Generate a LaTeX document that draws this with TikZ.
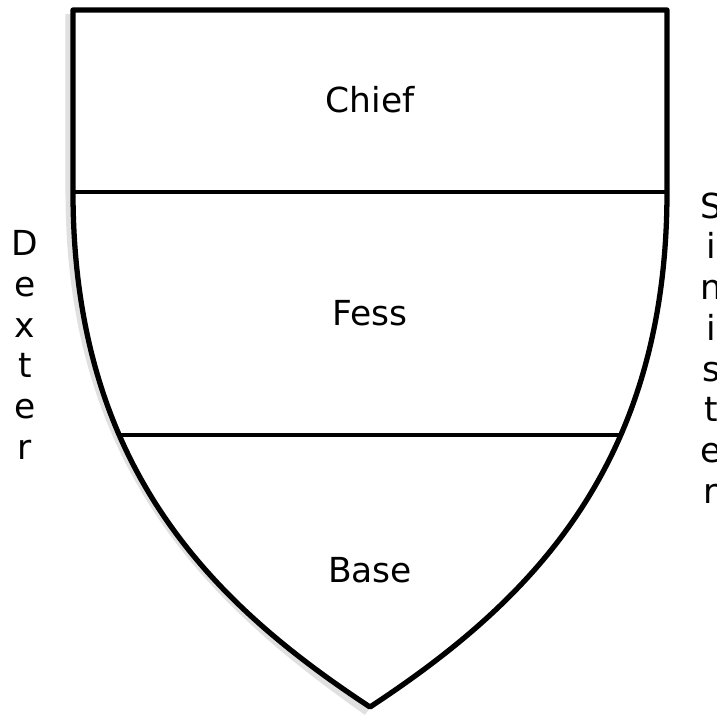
\documentclass[tikz,border=0pt]{standalone}
\usepackage{fontspec}
\setmainfont{DejaVu Sans}
\begin{document}
\begin{tikzpicture}[x=0.01cm,y=-0.01cm,line join=round,
  part/.style={font=\fontsize{9.8}{12}\selectfont},
  side/.style={font=\fontsize{9.8}{11.6}\selectfont,align=center,inner sep=0pt}]
\useasboundingbox (0,0) rectangle (717,717);
% soft shadow on the left
\draw[line width=2pt,black!12] (69,14) -- (69,192) .. controls (69,470) and (215,605) .. (367,712);
% dividing lines of the field
\begin{scope}
\clip (73,10) -- (667,10) -- (667,192) .. controls (667,470) and (525,605) .. (370,707) .. controls (215,605) and (73,470) .. (73,192) -- cycle;
\draw[line width=1.3pt] (0,192) -- (717,192);
\draw[line width=1.3pt] (0,435) -- (717,435);
\end{scope}
% the shield
\draw[line width=1.5pt] (73,10) -- (667,10) -- (667,192) .. controls (667,470) and (525,605) .. (370,707) .. controls (215,605) and (73,470) .. (73,192) -- cycle;
\node[part] (chief) at (370,100) {Chief};
\node[part] (fess) at (370,313) {Fess};
\node[part] (base) at (370,570) {Base};
\node[side] (dexter) at (25,345) {D\\e\\x\\t\\e\\r};
\node[side] (sinister) at (711,348) {S\\i\\n\\i\\s\\t\\e\\r};
\end{tikzpicture}
\end{document}
